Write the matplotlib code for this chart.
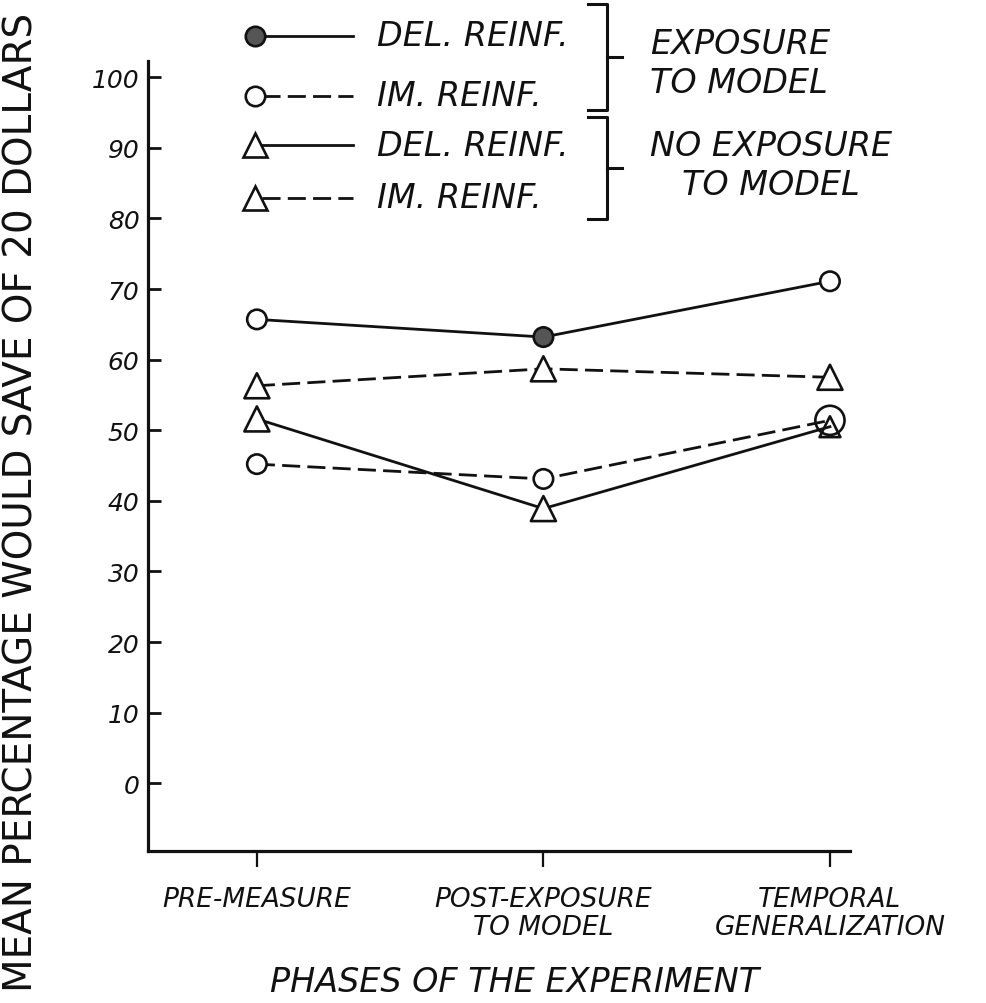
import matplotlib

matplotlib.use("Agg")
import matplotlib.pyplot as plt
from matplotlib.lines import Line2D

# ---- data ---------------------------------------------------------------
phases = ["PRE-MEASURE", "POST-EXPOSURE\nTO MODEL", "TEMPORAL\nGENERALIZATION"]
exp_del = [65.7, 63.2, 71.1]      # exposure to model, delayed reinforcement
exp_im = [45.2, 43.1, 51.4]       # exposure to model, immediate reinforcement
noexp_del = [51.6, 38.9, 50.5]    # no exposure, delayed reinforcement
noexp_im = [56.3, 58.7, 57.5]     # no exposure, immediate reinforcement
y_ticks = [0, 10, 20, 30, 40, 50, 60, 70, 80, 90, 100]

legend_labels = ["DEL. REINF.", "IM. REINF.", "DEL. REINF.", "IM. REINF."]
group_labels = ["EXPOSURE\nTO MODEL", "NO EXPOSURE\nTO MODEL"]

# ---- styles ------------------------------------------------------------
INK = "#111111"
DASH = (0, (6.5, 2.6))
W, H = 986, 1004

plt.rcParams["font.family"] = ["DejaVu Sans"]

fig = plt.figure(figsize=(W / 100, H / 100), dpi=100)
ax = fig.add_axes([148 / W, 1 - 852 / H, (850 - 148) / W, (852 - 62) / H])

x = list(range(len(phases)))

series = [
    (exp_del, "-", "o", [14, 14, 14], ["white", "#555555", "white"]),
    (exp_im, DASH, "o", [14, 14, 21], ["white", "white", "none"]),
    (noexp_del, "-", "^", [18, 18, 15], ["white", "white", "none"]),
    (noexp_im, DASH, "^", [18, 18, 18], ["white", "white", "white"]),
]

for vals, ls, mk, sizes, fills in series:
    ax.plot(x, vals, color=INK, lw=2.0, linestyle=ls, zorder=2)
    ax.scatter(x, vals, s=[s ** 2 for s in sizes], marker=mk,
               facecolors=fills, edgecolors=INK, linewidths=1.9, zorder=3)

ax.set_xlim(-0.380, 2.07)
ax.set_ylim(-9.6, 102.3)
ax.set_yticks(y_ticks)
ax.set_yticklabels([str(v) for v in y_ticks], fontsize=18, style="italic")
ax.set_xticks(x)
ax.set_xticklabels(phases, fontsize=19, style="italic", linespacing=1.1,
                   multialignment="center")

ax.tick_params(axis="y", direction="in", length=9.5, width=2, pad=6, colors=INK)
ax.tick_params(axis="x", direction="out", length=11.5, width=1.6, pad=14, colors=INK)

for side in ["top", "right"]:
    ax.spines[side].set_visible(False)
for side in ["left", "bottom"]:
    ax.spines[side].set_linewidth(2.3)
    ax.spines[side].set_color(INK)

ax.set_xlabel("PHASES OF THE EXPERIMENT", fontsize=24, style="italic", color=INK)
ax.xaxis.set_label_coords((515 - 148) / 702, -(966 - 852) / 790)

fig.text(22 / W, 0.5, "MEAN PERCENTAGE WOULD SAVE OF 20 DOLLARS",
         rotation=90, fontsize=28, ha="center", va="center", color=INK)


# ---- hand-drawn style legend (figure pixel coordinates) ----------------
def fx(px):
    return px / W


def fy(py):
    return 1 - py / H


rows_y = [37, 97, 146, 199]
leg_styles = [
    ("-", "o", 14, "#555555"),
    (DASH, "o", 14, "white"),
    ("-", "^", 17, "white"),
    (DASH, "^", 17, "white"),
]
for ry, (ls, mk, ms, fc), lab in zip(rows_y, leg_styles, legend_labels):
    fig.add_artist(Line2D([fx(262), fx(353)], [fy(ry), fy(ry)], color=INK,
                          lw=2.0, linestyle=ls, transform=fig.transFigure))
    fig.add_artist(Line2D([fx(255)], [fy(ry)], marker=mk, ms=ms, mfc=fc,
                          mec=INK, mew=1.9, linestyle="none",
                          transform=fig.transFigure))
    fig.text(fx(377), fy(ry), lab, fontsize=24, style="italic",
             ha="left", va="center", color=INK)

# brackets grouping the legend rows
for top, bot in [(5, 111), (118, 220)]:
    mid = (top + bot) / 2
    fig.add_artist(Line2D([fx(588), fx(607), fx(607), fx(588)],
                          [fy(top), fy(top), fy(bot), fy(bot)], color=INK,
                          lw=2.2, transform=fig.transFigure))
    fig.add_artist(Line2D([fx(607), fx(622)], [fy(mid), fy(mid)], color=INK,
                          lw=2.2, transform=fig.transFigure))

fig.text(fx(650), fy(64), group_labels[0], fontsize=24, style="italic",
         ha="left", va="center", linespacing=1.25, color=INK)
fig.text(fx(650), fy(166), group_labels[1], fontsize=24, style="italic",
         ha="left", va="center", linespacing=1.25, multialignment="center",
         color=INK)

fig.savefig("out.png", dpi=100, facecolor="white")
